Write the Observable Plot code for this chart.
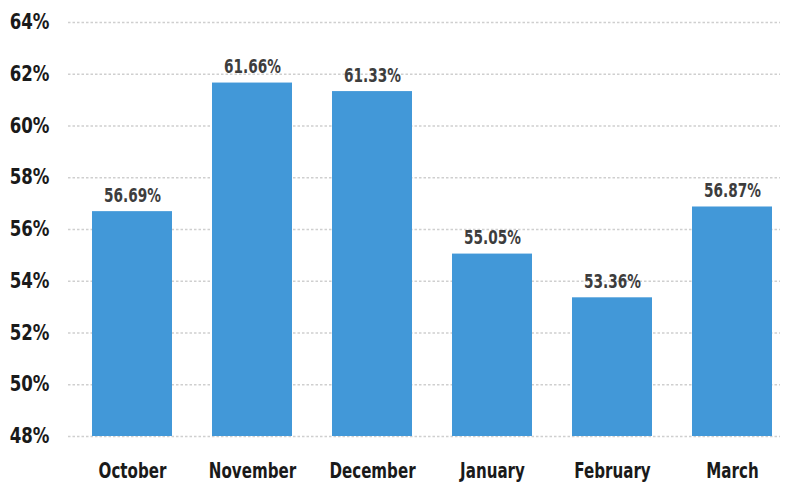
<!DOCTYPE html>
<html>
<head>
<meta charset="utf-8">
<script src="https://cdn.jsdelivr.net/npm/d3@7"></script>
<script src="https://cdn.jsdelivr.net/npm/@observablehq/plot@0.6"></script>
<style>
  html, body { margin: 0; padding: 0; background: #fff; }
</style>
</head>
<body>
<div id="chart"></div>
<script>
const months = ["October", "November", "December", "January", "February", "March"];
const shares = [56.69, 61.66, 61.33, 55.05, 53.36, 56.87];
const yTicks = [48, 50, 52, 54, 56, 58, 60, 62, 64];

const data = months.map((m, i) => ({month: m, value: shares[i]}));

const chart = Plot.plot({
  width: 787,
  height: 488,
  marginTop: 22,
  marginBottom: 52,
  marginLeft: 68,
  marginRight: 7,
  style: {fontFamily: '"DejaVu Sans Condensed", "DejaVu Sans", sans-serif', background: "#fff"},
  x: {domain: months, range: [72, 792], paddingInner: 1/3, paddingOuter: 1/6, label: null},
  y: {domain: [48, 64], label: null},
  marks: [
    Plot.ruleY(yTicks, {stroke: "#cfcfcf", strokeWidth: 1.3, strokeDasharray: "2.5,2"}),
    Plot.barY(data, {x: "month", y1: 48, y2: "value", fill: "#4298d8"}),
    Plot.text(data, {
      x: "month", y: "value",
      text: d => d.value.toFixed(2) + "%",
      dy: -16, fontSize: 19, fontWeight: "bold", fill: "#3d3d3d",
      className: "vlabel"
    }),
    Plot.axisY(yTicks, {
      tickSize: 0, tickPadding: 19, tickFormat: d => d + "%",
      fontSize: 21, fontWeight: "bold", fill: "#1a1a1a", label: null,
      className: "ylab"
    }),
    Plot.axisX({
      tickSize: 0, tickPadding: 27, fontSize: 21, fontWeight: "bold", fill: "#1a1a1a", label: null,
      className: "xlab"
    })
  ]
});

// Condense the text horizontally (no condensed font is installed)
function condense(selector, k) {
  d3.select(chart).selectAll(selector + " text").each(function () {
    const t = d3.select(this);
    let tr = t.attr("transform");
    if (!tr) {
      const x = +t.attr("x") || 0, y = +t.attr("y") || 0;
      t.attr("x", null).attr("y", null);
      tr = `translate(${x},${y})`;
    }
    t.attr("transform", `${tr} scale(${k},1)`);
  });
}
condense(".vlabel", 0.8);
condense(".xlab", 0.8);
condense(".ylab", 0.88);

document.getElementById("chart").appendChild(chart);
</script>
</body>
</html>
